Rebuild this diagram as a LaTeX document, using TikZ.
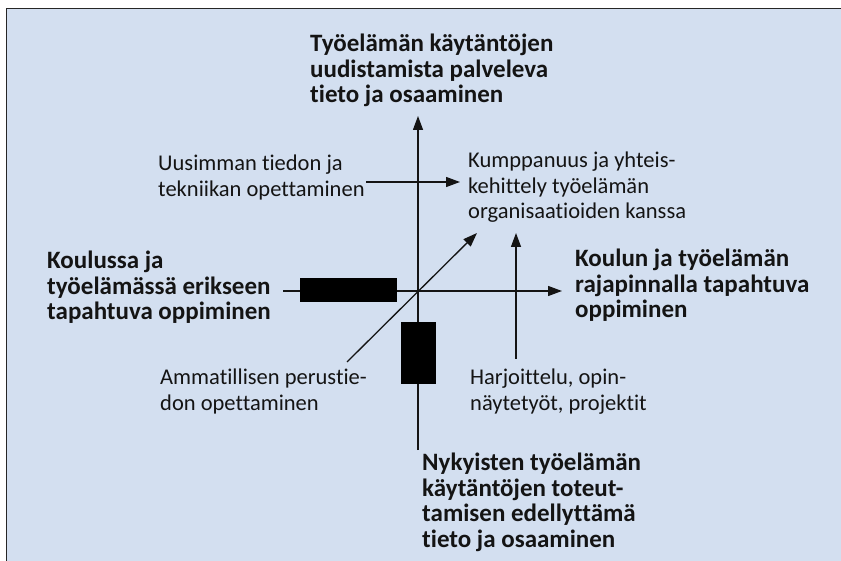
\documentclass[tikz,border=0pt]{standalone}
\usepackage{fontspec}
\setmainfont[Ligatures=NoCommon]{Carlito}
\usetikzlibrary{arrows.meta}

\definecolor{paneblue}{RGB}{211,223,240}
\definecolor{ink}{RGB}{20,20,20}

\tikzset{
  lbl/.style={anchor=north west, align=left, inner sep=0pt, text=ink,
    font=\fontsize{22.5}{25.5}\selectfont},
  hlbl/.style={lbl, font=\fontsize{25}{25.5}\selectfont\bfseries},
  arr/.style={-{Triangle[length=14pt,width=10pt]}, line width=1.3pt, draw=ink},
  blk/.style={fill=black, draw=none, inner sep=0pt}
}

\begin{document}
\begin{tikzpicture}[x=1pt,y=-1pt]
\useasboundingbox (0,0) rectangle (841,561);
\fill[paneblue] (6,8) rectangle (841,561);
\draw[line width=1.5pt, draw=black!85] (6.5,561) -- (6.5,8.5) -- (841,8.5);

% axes
\coordinate (axbot) at (418,450);
\coordinate (axtop) at (418,116);
\coordinate (axleft) at (283,291);
\coordinate (axright) at (562,291);
\draw[arr] (axbot) -- (axtop);
\draw[arr] (axleft) -- (axright);

% the two blocks
\node[blk, minimum width=97pt, minimum height=24pt] (erill) at (348.5,290) {};
\node[blk, minimum width=35pt, minimum height=62pt] (perus) at (418.5,353) {};

% axis labels
\node[hlbl] (uudist) at (310,34) {Työelämän käytäntöjen\\uudistamista palveleva\\tieto ja osaaminen};
\node[hlbl] (erikseen) at (47,251) {Koulussa ja\\työelämässä erikseen\\tapahtuva oppiminen};
\node[hlbl] (rajap) at (575,249) {Koulun ja työelämän\\rajapinnalla tapahtuva\\oppiminen};
\node[hlbl] (nykyiset) at (422,453) {Nykyisten työelämän\\käytäntöjen toteut-\\tamisen edellyttämä\\tieto ja osaaminen};

% quadrant texts
\node[lbl] (uusin) at (158,155) {Uusimman tiedon ja\\tekniikan opettaminen};
\node[lbl] (kumpp) at (468,152) {Kumppanuus ja yhteis-\\kehittely työelämän\\organisaatioiden kanssa};
\node[lbl] (ammat) at (160,369) {Ammatillisen perustie-\\don opettaminen};
\node[lbl] (harj) at (470,369) {Harjoittelu, opin-\\näytetyöt, projektit};

% arrows between them
\coordinate (diagA) at (347,362);
\coordinate (diagB) at (477,233);
\coordinate (harjA) at (516,359);
\coordinate (harjB) at (516,233);
\draw[arr] (366,182) -- (460,182);
\draw[arr] (diagA) -- (diagB);
\draw[arr] (harjA) -- (harjB);
\end{tikzpicture}
\end{document}
